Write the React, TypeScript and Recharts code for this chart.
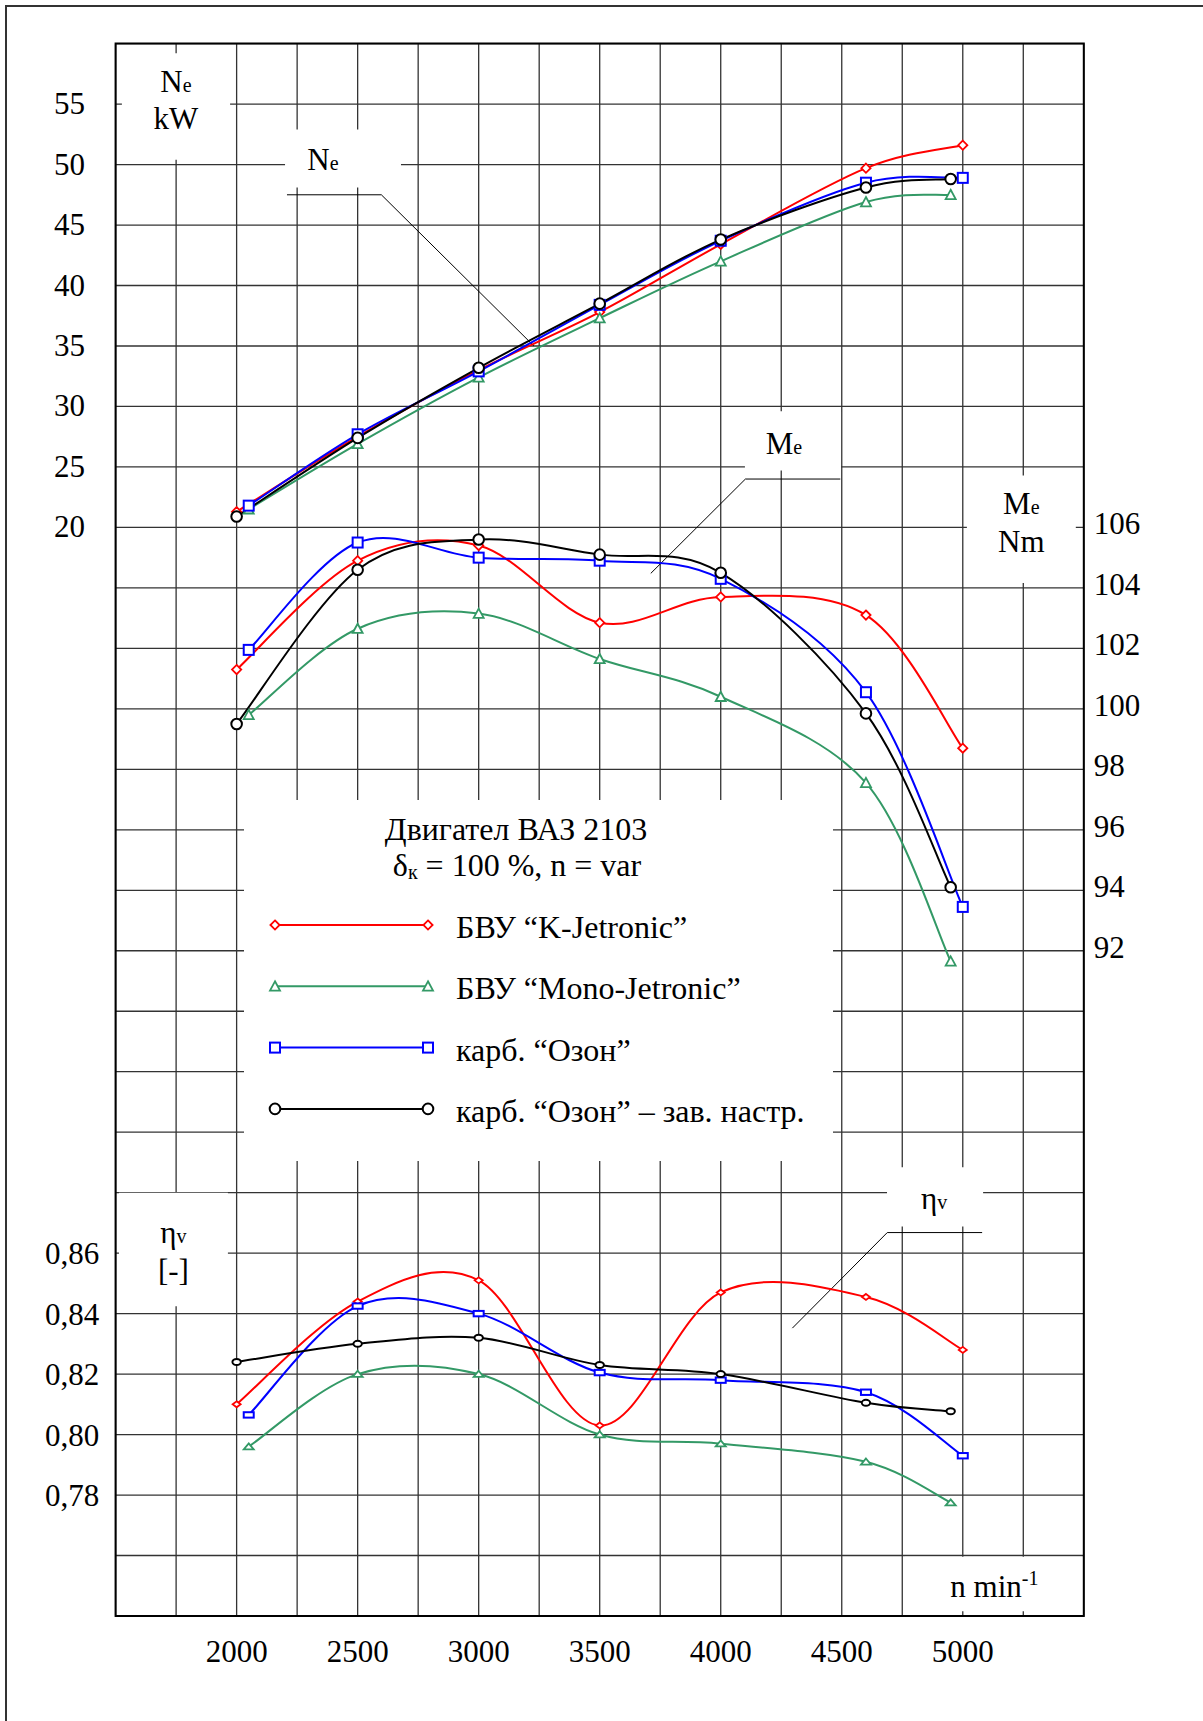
import {
  LineChart,
  Line,
  XAxis,
  YAxis,
  CartesianGrid,
  ReferenceArea,
  ReferenceLine,
  Legend,
} from "recharts";

const FONT = '"Liberation Serif", "Times New Roman", serif';
const FS = 31;
const FS_LEGEND = 32;
const FS_SMALL = 20;

// chart frame (plot area) in page pixels
const PLOT_LEFT = 115.6;

// engine speed, min^-1 (the curves were measured at slightly different points)
const rpmKJetronic = [2000, 2500, 3000, 3500, 4000, 4600, 5000];
const rpmMonoJetronic = [2050, 2500, 3000, 3500, 4000, 4600, 4950];
const rpmOzon = [2050, 2500, 3000, 3500, 4000, 4600, 5000];
const rpmOzonFactory = [2000, 2500, 3000, 3500, 4000, 4600, 4950];

// effective power Ne, kW
const neKJetronic = [21.3, 27.5, 33.0, 37.8, 43.4, 49.7, 51.6];
const neMonoJetronic = [21.5, 26.9, 32.4, 37.3, 42.0, 46.9, 47.5];
const neOzon = [21.8, 27.7, 32.9, 38.4, 43.7, 48.5, 48.9];
const neOzonFactory = [20.9, 27.4, 33.2, 38.5, 43.8, 48.1, 48.8];

// torque Me, Nm
const meKJetronic = [101.3, 104.9, 105.4, 102.85, 103.7, 103.1, 98.7];
const meMonoJetronic = [99.8, 102.65, 103.15, 101.65, 100.4, 97.55, 91.65];
const meOzon = [101.95, 105.5, 105.0, 104.9, 104.3, 100.55, 93.45];
const meOzonFactory = [99.5, 104.6, 105.6, 105.1, 104.5, 99.85, 94.1];

// volumetric efficiency
const etaKJetronic = [0.81, 0.844, 0.851, 0.803, 0.847, 0.8455, 0.828];
const etaMonoJetronic = [0.796, 0.82, 0.82, 0.8, 0.797, 0.791, 0.7775];
const etaOzon = [0.8065, 0.8425, 0.84, 0.8205, 0.818, 0.814, 0.793];
const etaOzonFactory = [0.824, 0.83, 0.832, 0.823, 0.82, 0.8105, 0.8077];

const xTicks = [2000, 2500, 3000, 3500, 4000, 4500, 5000];
const neTicks = [20, 25, 30, 35, 40, 45, 50, 55];
const meTicks = [92, 94, 96, 98, 100, 102, 104, 106];
const etaTicks = [0.78, 0.8, 0.82, 0.84, 0.86];

// the three quantities share one square grid
const X_DOMAIN: [number, number] = [1500, 5500];
const NE_DOMAIN: [number, number] = [-70, 60];
const ME_DOMAIN: [number, number] = [70, 122];
const ETA_DOMAIN: [number, number] = [0.74, 1.26];

const gridX = Array.from({ length: 17 }, (_, i) => X_DOMAIN[0] + i * 250);
const gridY = Array.from({ length: 27 }, (_, i) => NE_DOMAIN[0] + i * 5);

const series = [
  { name: "БВУ “K-Jetronic”", color: "#ff0000", shape: "diamond", rpm: rpmKJetronic, ne: neKJetronic, me: meKJetronic, eta: etaKJetronic },
  { name: "БВУ “Mono-Jetronic”", color: "#339966", shape: "triangle", rpm: rpmMonoJetronic, ne: neMonoJetronic, me: meMonoJetronic, eta: etaMonoJetronic },
  { name: "карб. “Озон”", color: "#0000ff", shape: "square", rpm: rpmOzon, ne: neOzon, me: meOzon, eta: etaOzon },
  { name: "карб. “Озон” – зав. настр.", color: "#000000", shape: "circle", rpm: rpmOzonFactory, ne: neOzonFactory, me: meOzonFactory, eta: etaOzonFactory },
];

const toRows = (rpm: number[], vals: number[]) => rpm.map((r, i) => ({ rpm: r, v: vals[i] }));

// eta labels are drawn on the left Ne axis, at the same grid heights
const etaOnNe = (v: number) =>
  NE_DOMAIN[0] + ((v - ETA_DOMAIN[0]) / (ETA_DOMAIN[1] - ETA_DOMAIN[0])) * (NE_DOMAIN[1] - NE_DOMAIN[0]);
const neOnEta = (v: number) =>
  ETA_DOMAIN[0] + ((v - NE_DOMAIN[0]) / (NE_DOMAIN[1] - NE_DOMAIN[0])) * (ETA_DOMAIN[1] - ETA_DOMAIN[0]);

// Excel-like smoothed line (Catmull-Rom through the points)
const excelSmooth = (context: any) => {
  let pts: number[][] = [];
  return {
    areaStart() {},
    areaEnd() {},
    lineStart() {
      pts = [];
    },
    point(x: number, y: number) {
      pts.push([+x, +y]);
    },
    lineEnd() {
      const n = pts.length;
      if (!n) return;
      context.moveTo(pts[0][0], pts[0][1]);
      for (let i = 0; i < n - 1; i++) {
        const p0 = pts[i - 1] || pts[i];
        const p1 = pts[i];
        const p2 = pts[i + 1];
        const p3 = pts[i + 2] || p2;
        context.bezierCurveTo(
          p1[0] + (p2[0] - p0[0]) / 6,
          p1[1] + (p2[1] - p0[1]) / 6,
          p2[0] - (p3[0] - p1[0]) / 6,
          p2[1] - (p3[1] - p1[1]) / 6,
          p2[0],
          p2[1]
        );
      }
    },
  };
};

function Marker({ cx, cy, shape, color, flat }: any) {
  if (cx == null || cy == null) return null;
  const sw = 1.8;
  if (shape === "diamond") {
    const w = flat ? 4 : 4.6;
    const h = flat ? 3 : 4.6;
    return (
      <polygon
        points={`${cx},${cy - h} ${cx + w},${cy} ${cx},${cy + h} ${cx - w},${cy}`}
        fill="#fff"
        stroke={color}
        strokeWidth={sw}
      />
    );
  }
  if (shape === "triangle") {
    const w = 5;
    const h = flat ? 3.3 : 5;
    return (
      <polygon
        points={`${cx},${cy - h} ${cx + w},${cy + h * 0.85} ${cx - w},${cy + h * 0.85}`}
        fill="#fff"
        stroke={color}
        strokeWidth={sw}
      />
    );
  }
  if (shape === "square") {
    const w = 5;
    const h = flat ? 2.7 : 5;
    return <rect x={cx - w} y={cy - h} width={2 * w} height={2 * h} fill="#fff" stroke={color} strokeWidth={2} />;
  }
  return <ellipse cx={cx} cy={cy} rx={flat ? 4.2 : 5.3} ry={flat ? 3 : 5.3} fill="#fff" stroke={color} strokeWidth={2} />;
}

type Part = { t: string; small?: boolean; shift?: number };

function PartsText({ x, y, parts, anchor = "middle", size = FS }: { x: number; y: number; parts: Part[]; anchor?: string; size?: number }) {
  let prev = 0;
  return (
    <text x={x} y={y} textAnchor={anchor} fontFamily={FONT} fontSize={size} fill="#000">
      {parts.map((p, j) => {
        const s = p.shift || 0;
        const dy = s - prev;
        prev = s;
        return (
          <tspan key={j} dy={dy} fontSize={p.small ? FS_SMALL : size}>
            {p.t}
          </tspan>
        );
      })}
    </text>
  );
}

// text inside a white label box; baselines measured from the top of the box
function BoxText({ viewBox, lines, dx = 0 }: any) {
  if (!viewBox) return null;
  const cx = viewBox.x + viewBox.width / 2 + dx;
  return (
    <g>
      {lines.map((ln: any, i: number) => (
        <PartsText key={i} x={cx} y={viewBox.y + ln.base} parts={ln.parts} />
      ))}
    </g>
  );
}

const labelBoxes = [
  { x1: 1526, x2: 1973, y1: 50.4, y2: 59.2, dx: 0, lines: [{ base: 39, parts: [{ t: "N" }, { t: "e", small: true }] }, { base: 76, parts: [{ t: "kW" }] }] },
  { x1: 2200, x2: 2679, y1: 48.1, y2: 52.9, dx: -20, lines: [{ base: 41, parts: [{ t: "N" }, { t: "e", small: true }] }] },
  { x1: 4100, x2: 4497, y1: 24.7, y2: 29.6, dx: -9, lines: [{ base: 43, parts: [{ t: "M" }, { t: "e", small: true }] }] },
  { x1: 5017, x2: 5467, y1: 15.4, y2: 24.3, dx: 0, lines: [{ base: 39, parts: [{ t: "M" }, { t: "e", small: true }] }, { base: 77, parts: [{ t: "Nm" }] }] },
  { x1: 1514, x2: 1964, y1: -44.4, y2: -35, dx: 0, lines: [{ base: 50, parts: [{ t: "η" }, { t: "v", small: true }] }, { base: 88, parts: [{ t: "[-]" }] }] },
  { x1: 4687, x2: 5084, y1: -37.8, y2: -32.9, dx: -1, lines: [{ base: 42, parts: [{ t: "η" }, { t: "v", small: true }] }] },
  { x1: 4761, x2: 5492, y1: -69.6, y2: -65.1, dx: 1, lines: [{ base: 40, parts: [{ t: "n min" }, { t: "-1", small: true, shift: -12 }] }] },
];

// leader lines from the curve-family labels to their curves
const leaders = [
  [{ x: 2208, y: 47.5 }, { x: 2598, y: 47.5 }],
  [{ x: 2598, y: 47.5 }, { x: 3228, y: 35.0 }],
  [{ x: 4102, y: 24.0 }, { x: 4494, y: 24.0 }],
  [{ x: 4102, y: 24.0 }, { x: 3711, y: 16.2 }],
  [{ x: 4688, y: -38.3 }, { x: 5080, y: -38.3 }],
  [{ x: 4688, y: -38.3 }, { x: 4296, y: -46.2 }],
];

function LeftTick(props: any) {
  const { y, payload } = props;
  const v = payload.value;
  if (v >= neTicks[0] - 0.01) {
    return (
      <text x={PLOT_LEFT - 30.5} y={y + 10} textAnchor="end" fontFamily={FONT} fontSize={FS} fill="#000">
        {String(v)}
      </text>
    );
  }
  const eta = neOnEta(v);
  return (
    <text x={PLOT_LEFT - 16.3} y={y + 11} textAnchor="end" fontFamily={FONT} fontSize={FS} fill="#000">
      {eta.toFixed(2).replace(".", ",")}
    </text>
  );
}

function RightTick(props: any) {
  const { x, y, payload } = props;
  return (
    <text x={x + 10} y={y + 7} textAnchor="start" fontFamily={FONT} fontSize={FS} fill="#000">
      {String(payload.value)}
    </text>
  );
}

function BottomTick(props: any) {
  const { x, y, payload } = props;
  return (
    <text x={x} y={y + 46} textAnchor="middle" fontFamily={FONT} fontSize={FS} fill="#000">
      {String(payload.value)}
    </text>
  );
}

function LegendBox() {
  return (
    <svg width={589} height={361} style={{ display: "block", background: "#fff" }}>
      <text x={272} y={40} textAnchor="middle" fontFamily={FONT} fontSize={FS_LEGEND} fill="#000">
        Двигател ВАЗ 2103
      </text>
      <PartsText
        x={273}
        y={76}
        size={FS_LEGEND}
        parts={[{ t: "δ" }, { t: "к", small: true, shift: 3 }, { t: " = 100 %, n = var" }]}
      />
      {series.map((s, i) => {
        const y = 125 + i * 61.3;
        return (
          <g key={s.name}>
            <line x1={31} x2={184} y1={y} y2={y} stroke={s.color} strokeWidth={2} />
            <Marker cx={31} cy={y} shape={s.shape} color={s.color} />
            <Marker cx={184} cy={y} shape={s.shape} color={s.color} />
            <text x={212} y={y + 13} fontFamily={FONT} fontSize={FS_LEGEND} fill="#000">
              {s.name}
            </text>
          </g>
        );
      })}
    </svg>
  );
}

export default function App() {
  const lineFor = (s: any, key: "ne" | "me" | "eta", axis: string, withLegend: boolean) => (
    <Line
      key={`${key}-${s.name}`}
      data={toRows(s.rpm, s[key])}
      dataKey="v"
      name={s.name}
      yAxisId={axis}
      type={excelSmooth as any}
      stroke={s.color}
      strokeWidth={2}
      dot={(p: any) => (
        <Marker key={`${key}-${s.name}-${p.index}`} cx={p.cx} cy={p.cy} shape={s.shape} color={s.color} flat={key === "eta"} />
      )}
      activeDot={false}
      legendType={withLegend ? "line" : "none"}
      isAnimationActive={false}
    />
  );

  return (
    <div style={{ position: "absolute", left: 0, top: 0, width: 1203, height: 1721, background: "#fff" }}>
      <div
        style={{
          position: "absolute",
          left: 5,
          top: 5,
          right: 0,
          bottom: 0,
          borderTop: "2px solid #333",
          borderLeft: "2px solid #333",
        }}
      />
      <div style={{ position: "absolute", left: 0, top: 0 }}>
        <LineChart width={1203} height={1721} margin={{ top: 43.6, right: 39.2, bottom: 45, left: 35.6 }}>
          <CartesianGrid
            yAxisId="ne"
            horizontalValues={gridY}
            verticalValues={gridX}
            stroke="#333"
            strokeWidth={1.3}
          />
          <XAxis
            dataKey="rpm"
            type="number"
            domain={X_DOMAIN}
            ticks={xTicks}
            interval={0}
            allowDataOverflow
            height={60}
            axisLine={false}
            tickLine={false}
            tickSize={0}
            tickMargin={0}
            tick={BottomTick}
          />
          <YAxis
            yAxisId="ne"
            type="number"
            domain={NE_DOMAIN}
            ticks={[...neTicks, ...etaTicks.map(etaOnNe)]}
            interval={0}
            allowDataOverflow
            width={80}
            axisLine={false}
            tickLine={false}
            tickSize={0}
            tickMargin={0}
            tick={LeftTick}
          />
          <YAxis
            yAxisId="me"
            orientation="right"
            type="number"
            domain={ME_DOMAIN}
            ticks={meTicks}
            interval={0}
            allowDataOverflow
            width={80}
            axisLine={false}
            tickLine={false}
            tickSize={0}
            tickMargin={0}
            tick={RightTick}
          />
          <YAxis yAxisId="eta" hide type="number" domain={ETA_DOMAIN} allowDataOverflow />

          {labelBoxes.map((b, i) => (
            <ReferenceArea
              key={`box-${i}`}
              yAxisId="ne"
              x1={b.x1}
              x2={b.x2}
              y1={b.y1}
              y2={b.y2}
              fill="#fff"
              fillOpacity={1}
              stroke="none"
              ifOverflow="visible"
              label={<BoxText lines={b.lines} dx={b.dx} />}
            />
          ))}
          {leaders.map((seg, i) => (
            <ReferenceLine
              key={`lead-${i}`}
              yAxisId="ne"
              segment={seg}
              stroke="#000"
              strokeWidth={1}
              ifOverflow="visible"
            />
          ))}

          {series.map((s) => lineFor(s, "ne", "ne", true))}
          {series.map((s) => lineFor(s, "me", "me", false))}
          {series.map((s) => lineFor(s, "eta", "eta", false))}

          <ReferenceArea
            yAxisId="ne"
            x1={X_DOMAIN[0]}
            x2={X_DOMAIN[1]}
            y1={NE_DOMAIN[0]}
            y2={NE_DOMAIN[1]}
            fill="none"
            fillOpacity={0}
            stroke="#000"
            strokeWidth={2}
            ifOverflow="visible"
          />
          <Legend
            layout="horizontal"
            verticalAlign="middle"
            align="center"
            width={589}
            height={361}
            wrapperStyle={{ left: 244, top: 800, width: 589, height: 361, background: "#fff" }}
            content={() => <LegendBox />}
          />
        </LineChart>
      </div>
    </div>
  );
}
